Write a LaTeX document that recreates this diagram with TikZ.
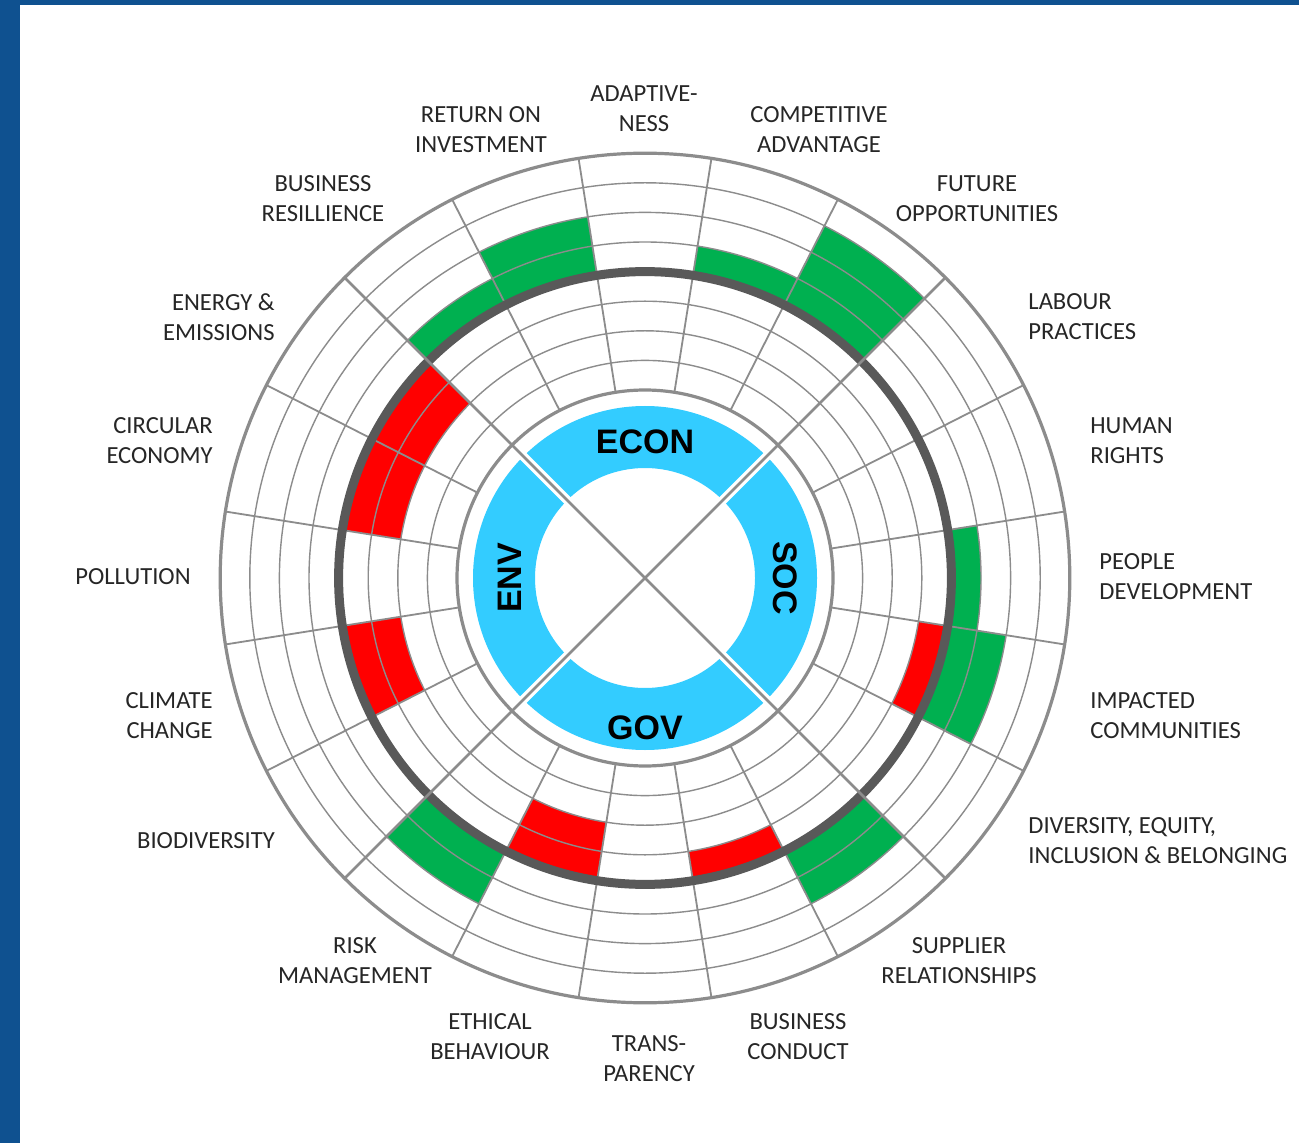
\documentclass[tikz,border=0pt]{standalone}
\usepackage{fontspec}
\setmainfont{Carlito}
\newfontfamily\hdfont{Liberation Sans}
\definecolor{borderblue}{HTML}{0F5190}
\definecolor{ringblue}{HTML}{33CCFF}
\definecolor{barGreen}{HTML}{00B050}
\definecolor{barRed}{HTML}{FF0000}
\definecolor{gridgray}{HTML}{8C8C8C}
\definecolor{darkring}{HTML}{595959}
\definecolor{labeltext}{HTML}{262626}
\newcommand{\annsec}[5]{\fill[#5] (#1:#3pt) arc[start angle=#1, end angle=#2, radius=#3pt] -- (#2:#4pt) arc[start angle=#2, end angle=#1, radius=#4pt] -- cycle;}
\tikzset{
  lbl/.style={inner sep=0pt, text=labeltext, font=\fontsize{12.3}{15}\selectfont},
  lblc/.style={lbl, align=center, anchor=center},
  lblw/.style={lbl, align=left, anchor=west},
  lble/.style={lbl, align=right, anchor=east},
  pillar/.style={inner sep=0pt, text=black, font=\hdfont\bfseries\fontsize{17}{17}\selectfont},
  ringline/.style={draw=gridgray, line width=0.7pt},
  spoke/.style={draw=gridgray, line width=0.9pt},
  bigcircle/.style={draw=gridgray, line width=1.6pt},
  diagline/.style={draw=gridgray, line width=1.4pt},
  zeroline/.style={draw=darkring, line width=4.5pt}
}
\begin{document}
\begin{tikzpicture}
\useasboundingbox (0,0) rectangle (649.5pt,-571.5pt);
\fill[white] (0,0) rectangle (649.5pt,-571.5pt);
\fill[borderblue] (0,0) rectangle (10pt,-571.5pt);
\fill[borderblue] (0,0) rectangle (649.5pt,-2.5pt);

\begin{scope}[shift={(322.5pt,-289pt)}]
% bars
\annsec{99}{117}{153.2}{182.8}{barGreen}
\annsec{117}{135}{153.2}{168}{barGreen}
\annsec{135}{153}{123.6}{153.2}{barRed}
\annsec{153}{171}{123.6}{153.2}{barRed}
\annsec{189}{207}{123.6}{153.2}{barRed}
\annsec{225}{243}{153.2}{182.8}{barGreen}
\annsec{243}{261}{123.6}{153.2}{barRed}
\annsec{279}{297}{138.4}{153.2}{barRed}
\annsec{297}{315}{153.2}{182.8}{barGreen}
\annsec{333}{351}{153.2}{182.8}{barGreen}
\annsec{333}{351}{138.4}{153.2}{barRed}
\annsec{-9}{9}{153.2}{168}{barGreen}
\annsec{45}{63}{153.2}{197.6}{barGreen}
\annsec{63}{81}{153.2}{168}{barGreen}
% rings
\foreach \k in {1,2,3,5,6,7}{
  \pgfmathsetmacro{\rr}{94+\k*14.8}
  \draw[ringline] (0,0) circle[radius=\rr pt];
}
% spokes
\foreach \a in {9,27,63,81,99,117,153,171,189,207,243,261,279,297,333,351}{
  \draw[spoke] (\a:94pt) -- (\a:212.4pt);
}
\draw[bigcircle] (0,0) circle[radius=94pt];
\draw[bigcircle] (0,0) circle[radius=212.4pt];
\draw[zeroline] (0,0) circle[radius=153.2pt];
% pillar ring
\fill[ringblue, even odd rule] (0,0) circle[radius=86pt] (0,0) circle[radius=55pt];
\foreach \a in {45,135,225,315}{
  \draw[white, line width=4.5pt] (\a:50pt) -- (\a:90pt);
}
\draw[diagline] (45:212.4pt) -- (225:212.4pt);
\draw[diagline] (135:212.4pt) -- (315:212.4pt);
\node[pillar] (econ) at (90:68pt) {ECON};
\node[pillar, rotate=-90] (soc) at (0:70pt) {SOC};
\node[pillar] (gov) at (270:75pt) {GOV};
\node[pillar, rotate=90] (env) at (180:67.5pt) {ENV};
\end{scope}

% labels
\node[lblc] (l1) at (240.5pt,-65pt) {RETURN ON\\INVESTMENT};
\node[lblc] (l2) at (322pt,-54.5pt) {ADAPTIVE-\\NESS};
\node[lblc] (l3) at (409.5pt,-65pt) {COMPETITIVE\\ADVANTAGE};
\node[lblc] (l4) at (488.5pt,-99.5pt) {FUTURE\\OPPORTUNITIES};
\node[lblc] (l5) at (161.5pt,-99.5pt) {BUSINESS\\RESILLIENCE};
\node[lblw] (l6) at (514pt,-158.5pt) {LABOUR\\PRACTICES};
\node[lblw] (l7) at (545pt,-220.5pt) {HUMAN\\RIGHTS};
\node[lblw] (l8) at (549.5pt,-288.5pt) {PEOPLE\\DEVELOPMENT};
\node[lblw] (l9) at (545pt,-358pt) {IMPACTED\\COMMUNITIES};
\node[lblw] (l10) at (514pt,-420.5pt) {DIVERSITY, EQUITY,\\INCLUSION \& BELONGING};
\node[lblc] (l11) at (479.5pt,-480.5pt) {SUPPLIER\\RELATIONSHIPS};
\node[lblc] (l12) at (399pt,-518.5pt) {BUSINESS\\CONDUCT};
\node[lblc] (l13) at (324.5pt,-529.5pt) {TRANS-\\PARENCY};
\node[lblc] (l14) at (245pt,-518.5pt) {ETHICAL\\BEHAVIOUR};
\node[lblc] (l15) at (177.5pt,-480.5pt) {RISK\\MANAGEMENT};
\node[lblc] (l16) at (103pt,-420.5pt) {BIODIVERSITY};
\node[lble] (l17) at (106.5pt,-358pt) {CLIMATE\\CHANGE};
\node[lblc] (l18) at (66.5pt,-288.5pt) {POLLUTION};
\node[lble] (l19) at (106.5pt,-220.5pt) {CIRCULAR\\ECONOMY};
\node[lble] (l20) at (137.5pt,-158.5pt) {ENERGY \&\\EMISSIONS};
\end{tikzpicture}
\end{document}
